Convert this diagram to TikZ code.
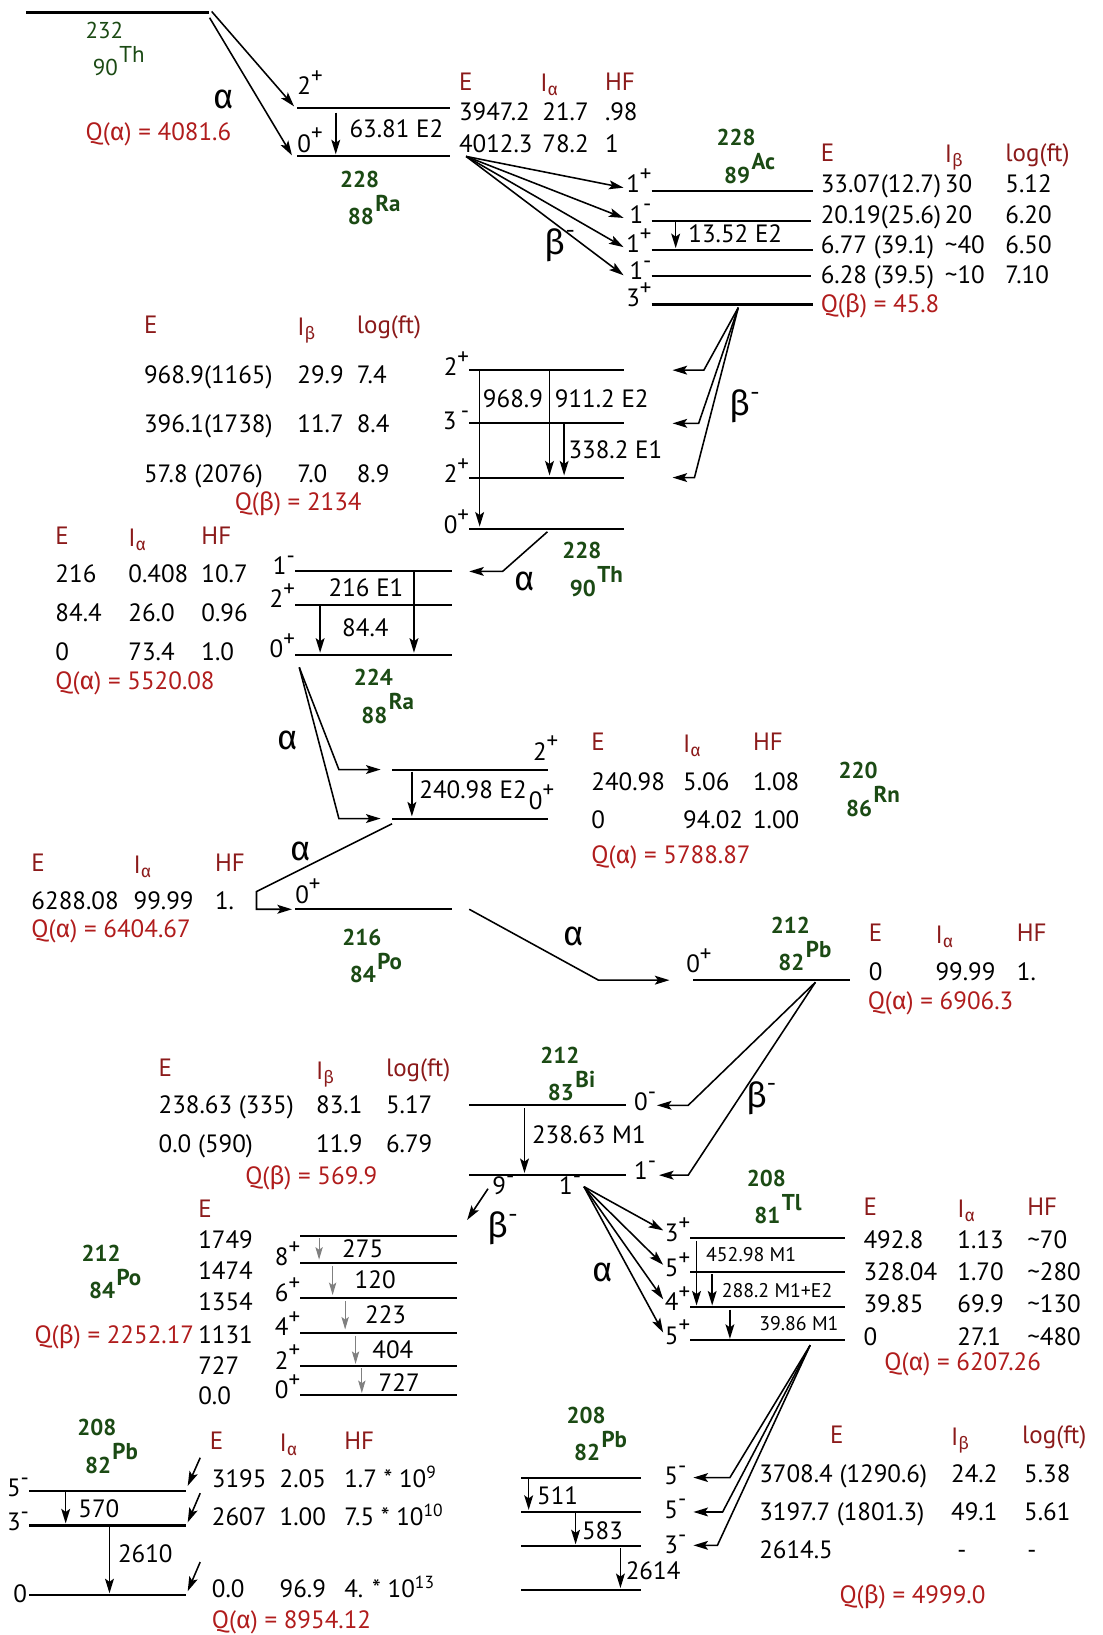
\documentclass[tikz,border=0pt]{standalone}
\usepackage{fontspec}
\setmainfont{PT Sans}
\newfontfamily\grk{Fira Sans}
\usetikzlibrary{arrows.meta, calc}

\definecolor{hdrRed}{HTML}{8B1A1A}
\definecolor{qRed}{HTML}{B01C1C}
\definecolor{isoGreen}{HTML}{1B4A14}

\newcommand{\alp}{{\grk α}}
\newcommand{\bet}{{\grk β}}
\newcommand{\up}[1]{\raisebox{0.45em}{\fontsize{22}{22}\selectfont #1}}

\tikzset{
    lvl/.style={line width=2pt},
    arr/.style={line width=1.5pt, -{Stealth[length=14pt,width=8.5pt,inset=3pt]}},
    garr/.style={line width=1.1pt, gray, -{Stealth[length=12pt,width=7pt,inset=2.5pt]}},
    tx/.style={inner sep=0pt, anchor=base west, font=\fontsize{24}{26}\selectfont},
    txr/.style={tx, anchor=base east},
    hdr/.style={tx, text=hdrRed},
    qval/.style={tx, text=qRed},
    small/.style={tx, font=\fontsize{19}{21}\selectfont},
    decay/.style={inner sep=0pt, font=\fontsize{33}{35}\grk},
    iso/.style={inner sep=0pt, text=isoGreen, font=\fontsize{22}{24}\selectfont\bfseries},
    isothin/.style={iso, font=\fontsize{22}{24}\selectfont},
}

% mass number, atomic number and symbol of a nuclide
\newcommand{\nuclide}[6][iso]{%
    \node[#1] (#2A) at (#3) {#4};
    \node[#1] (#2Z) at ($(#2A)+(1,36)$) {#5};
    \node[#1, anchor=base west] (#2S) at ($(#2Z.north east)+(1,3)$) {#6};
}

\begin{document}
\begin{tikzpicture}[x=1pt, y=-1pt]
    \useasboundingbox (0,0) rectangle (1057,1568);

    % Th-232 -> Ra-228 (alpha)
    \draw[lvl] (25,12) -- (200,12);
    \nuclide[isothin]{thA}{100,29}{232}{90}{Th}
    \draw[arr] (203,11) -- (282,102);
    \draw[arr] (201,17) -- (280,149);
    \node[decay] (aA) at (215,95) {\alp};
    \node[qval] (qA) at (82,135) {Q(\alp) = 4081.6};

    \draw[lvl] (285,104) -- (432,104);
    \draw[lvl] (285,150) -- (432,150);
    \node[tx] (sA1) at (285,91) {2\up{+}};
    \node[tx] (sA2) at (285,146) {0\up{+}};
    \draw[arr] (322,108) -- (322,148);
    \node[tx] (gA1) at (335,132) {63.81 E2};
    \nuclide{raA}{345,172}{228}{88}{Ra}
    \node[hdr] at (440,87) {E};
    \node[hdr] at (518,88) {I\textsubscript{\alp}};
    \node[hdr] at (580,87) {HF};
    \node[tx] at (440,116) {3947.2};
    \node[tx] at (520,116) {21.7};
    \node[tx] at (580,116) {.98};
    \node[tx] at (440,146) {4012.3};
    \node[tx] at (520,146) {78.2};
    \node[tx] at (580,146) {1};

    % Ra-228 -> Ac-228 (beta)
    \foreach \y in {180,209,237,264}
        \draw[arr] (447,150) -- (598,\y);
    \node[decay] (bB) at (537,235) {\bet\up{-}};
    \draw[lvl] (625,183) -- (780,183);
    \draw[lvl] (625,212) -- (778,212);
    \draw[lvl] (625,240) -- (780,240);
    \draw[lvl] (625,265) -- (778,265);
    \draw[lvl] (625,292) -- (780,292);
    \node[txr] at (625,185) {1\up{+}};
    \node[txr] at (625,214) {1\up{-}};
    \node[txr] at (625,242) {1\up{+}};
    \node[txr] at (625,268) {1\up{-}};
    \node[txr] at (625,294) {3\up{+}};
    \draw[arr] (648,213) -- (648,238);
    \node[tx] at (660,233) {13.52 E2};
    \nuclide{acB}{706,132}{228}{89}{Ac}
    \node[hdr] at (787,155) {E};
    \node[hdr] at (906,156) {I\textsubscript{\bet}};
    \node[hdr] at (964,155) {log(ft)};
    \node[tx] at (787,185) {33.07(12.7)};
    \node[tx] at (906,185) {30};
    \node[tx] at (964,185) {5.12};
    \node[tx] at (787,214) {20.19(25.6)};
    \node[tx] at (906,214) {20};
    \node[tx] at (964,214) {6.20};
    \node[tx] at (787,243) {6.77 (39.1)};
    \node[tx] at (906,243) {\char`\~40};
    \node[tx] at (964,243) {6.50};
    \node[tx] at (787,272) {6.28 (39.5)};
    \node[tx] at (906,272) {\char`\~10};
    \node[tx] at (964,272) {7.10};
    \node[qval] at (787,300) {Q(\bet) = 45.8};

    % Ac-228 -> Th-228 (beta)
    \draw[arr] (708,295) -- (675,355) -- (645,355);
    \draw[arr] (708,295) -- (670,406) -- (645,406);
    \draw[arr] (708,295) -- (666,458) -- (645,458);
    \node[decay] (bC) at (714,390) {\bet\up{-}};
    \draw[lvl] (450,355) -- (598,355);
    \draw[lvl] (450,406) -- (598,406);
    \draw[lvl] (450,458) -- (598,458);
    \draw[lvl] (450,507) -- (598,507);
    \node[txr] at (450,360) {2\up{+}};
    \node[txr] at (450,412) {3\,\up{-}};
    \node[txr] at (450,463) {2\up{+}};
    \node[txr] at (450,512) {0\up{+}};
    \draw[arr] (460,355) -- (460,505);
    \draw[arr] (527,355) -- (527,456);
    \draw[arr] (541,406) -- (541,456);
    \node[tx] at (463,391) {968.9};
    \node[tx] at (532,391) {911.2 E2};
    \node[tx] at (545,440) {338.2 E1};
    \nuclide{thC}{558,528}{228}{90}{Th}
    \node[hdr] at (138,320) {E};
    \node[hdr] at (285,322) {I\textsubscript{\bet}};
    \node[hdr] at (342,320) {log(ft)};
    \node[tx] at (138,368) {968.9(1165)};
    \node[tx] at (285,368) {29.9};
    \node[tx] at (342,368) {7.4};
    \node[tx] at (138,415) {396.1(1738)};
    \node[tx] at (285,415) {11.7};
    \node[tx] at (342,415) {8.4};
    \node[tx] at (138,463) {57.8 (2076)};
    \node[tx] at (285,463) {7.0};
    \node[tx] at (342,463) {8.9};
    \node[qval] at (225,490) {Q(\bet) = 2134};

    % Th-228 -> Ra-224 (alpha)
    \draw[arr] (525,510) -- (482,548) -- (450,548);
    \node[decay] (aD) at (503,558) {\alp};
    \draw[lvl] (283,548) -- (433,548);
    \draw[lvl] (283,580) -- (433,580);
    \draw[lvl] (283,628) -- (433,628);
    \node[txr] at (283,551) {1\up{-}};
    \node[txr] at (283,583) {2\up{+}};
    \node[txr] at (283,631) {0\up{+}};
    \draw[arr] (397,548) -- (397,626);
    \draw[arr] (307,580) -- (307,626);
    \node[tx] at (315,572) {216 E1};
    \node[tx] at (328,610) {84.4};
    \nuclide{raD}{358,650}{224}{88}{Ra}
    \node[hdr] at (53,522) {E};
    \node[hdr] at (123,524) {I\textsubscript{\alp}};
    \node[hdr] at (193,522) {HF};
    \node[tx] at (53,559) {216};
    \node[tx] at (123,559) {0.408};
    \node[tx] at (193,559) {10.7};
    \node[tx] at (53,596) {84.4};
    \node[tx] at (123,596) {26.0};
    \node[tx] at (193,596) {0.96};
    \node[tx] at (53,633) {0};
    \node[tx] at (123,633) {73.4};
    \node[tx] at (193,633) {1.0};
    \node[qval] at (53,661) {Q(\alp) = 5520.08};

    % Ra-224 -> Rn-220 (alpha)
    \draw[arr] (287,640) -- (325,738) -- (365,738);
    \draw[arr] (287,640) -- (325,785) -- (365,785);
    \node[decay] (aE) at (276,710) {\alp};
    \draw[lvl] (376,738) -- (526,738);
    \draw[lvl] (376,785) -- (526,785);
    \node[tx] at (511,729) {2\up{+}};
    \node[tx] at (507,776) {0\up{+}};
    \draw[arr] (395,740) -- (395,783);
    \node[tx] at (402,766) {240.98 E2};
    \nuclide{rnE}{823,739}{220}{86}{Rn}
    \node[hdr] at (567,720) {E};
    \node[hdr] at (655,722) {I\textsubscript{\alp}};
    \node[hdr] at (722,720) {HF};
    \node[tx] at (567,758) {240.98};
    \node[tx] at (655,758) {5.06};
    \node[tx] at (722,758) {1.08};
    \node[tx] at (567,795) {0};
    \node[tx] at (655,795) {94.02};
    \node[tx] at (722,795) {1.00};
    \node[qval] at (567,828) {Q(\alp) = 5788.87};

    % Rn-220 -> Po-216 (alpha)
    \draw[arr] (376,790) -- (246,855) -- (246,872) -- (280,872);
    \node[decay] (aF) at (288,817) {\alp};
    \draw[lvl] (283,872) -- (433,872);
    \node[tx] at (283,866) {0\up{+}};
    \nuclide{poF}{347,899}{216}{84}{Po}
    \node[hdr] at (30,836) {E};
    \node[hdr] at (128,838) {I\textsubscript{\alp}};
    \node[hdr] at (206,836) {HF};
    \node[tx] at (30,872) {6288.08};
    \node[tx] at (128,872) {99.99};
    \node[tx] at (206,872) {1.};
    \node[qval] at (30,899) {Q(\alp) = 6404.67};

    % Po-216 -> Pb-212 (alpha)
    \draw[arr] (450,872) -- (574,940) -- (642,940);
    \node[decay] (aG) at (550,898) {\alp};
    \draw[lvl] (665,940) -- (815,940);
    \node[tx] at (658,933) {0\up{+}};
    \nuclide{pbG}{758,887}{212}{82}{Pb}
    \node[hdr] at (833,903) {E};
    \node[hdr] at (897,905) {I\textsubscript{\alp}};
    \node[hdr] at (975,903) {HF};
    \node[tx] at (833,940) {0};
    \node[tx] at (897,940) {99.99};
    \node[tx] at (975,940) {1.};
    \node[qval] at (832,968) {Q(\alp) = 6906.3};

    % Pb-212 -> Bi-212 (beta)
    \draw[arr] (782,942) -- (660,1060) -- (630,1060);
    \draw[arr] (782,942) -- (660,1127) -- (632,1127);
    \node[decay] (bH) at (730,1053) {\bet\up{-}};
    \draw[lvl] (450,1060) -- (600,1060);
    \draw[lvl] (450,1127) -- (600,1127);
    \node[tx] at (608,1065) {0\up{-}};
    \node[tx] at (608,1131) {1\up{-}};
    \draw[arr] (503,1063) -- (503,1125);
    \node[tx] at (510,1097) {238.63 M1};
    \nuclide{biH}{537,1012}{212}{83}{Bi}
    \node[hdr] at (152,1032) {E};
    \node[hdr] at (303,1035) {I\textsubscript{\bet}};
    \node[hdr] at (370,1032) {log(ft)};
    \node[tx] at (152,1068) {238.63 (335)};
    \node[tx] at (303,1068) {83.1};
    \node[tx] at (370,1068) {5.17};
    \node[tx] at (152,1105) {0.0 (590)};
    \node[tx] at (303,1105) {11.9};
    \node[tx] at (370,1105) {6.79};
    \node[qval] at (235,1136) {Q(\bet) = 569.9};

    % Bi-212 -> Po-212 (beta)
    \node[tx] at (472,1146) {9\up{-}};
    \node[tx] at (536,1146) {1\up{-}};
    \draw[arr] (468,1140) -- (448,1170);
    \node[decay] (bJ) at (482,1178) {\bet\up{-}};
    \foreach \y in {1185,1211,1245,1278,1310,1338}
        \draw[lvl] (288,\y) -- (438,\y);
    \node[txr] at (288,1214) {8\up{+}};
    \node[txr] at (288,1248) {6\up{+}};
    \node[txr] at (288,1281) {4\up{+}};
    \node[txr] at (288,1313) {2\up{+}};
    \node[txr] at (288,1341) {0\up{+}};
    \node[hdr] at (190,1168) {E};
    \node[tx] at (190,1197) {1749};
    \node[tx] at (190,1227) {1474};
    \node[tx] at (190,1257) {1354};
    \node[tx] at (190,1288) {1131};
    \node[tx] at (190,1318) {727};
    \node[tx] at (190,1347) {0.0};
    \draw[garr] (306,1187) -- (306,1208);
    \draw[garr] (319,1214) -- (319,1242);
    \draw[garr] (331,1248) -- (331,1275);
    \draw[garr] (341,1281) -- (341,1308);
    \draw[garr] (347,1312) -- (347,1336);
    \node[tx] at (328,1206) {275};
    \node[tx] at (340,1236) {120};
    \node[tx] at (350,1269) {223};
    \node[tx] at (357,1303) {404};
    \node[tx] at (363,1334) {727};
    \nuclide{poJ}{97,1202}{212}{84}{Po}
    \node[qval] at (33,1288) {Q(\bet) = 2252.17};

    % Bi-212 -> Tl-208 (alpha)
    \foreach \y in {1180,1213,1246,1278}
        \draw[arr] (560,1138) -- (636,\y);
    \node[decay] (aK) at (578,1220) {\alp};
    \foreach \y in {1187,1220,1253,1285}
        \draw[lvl] (662,\y) -- (810,\y);
    \node[txr] at (662,1191) {3\up{+}};
    \node[txr] at (662,1224) {5\up{+}};
    \node[txr] at (662,1257) {4\up{+}};
    \node[txr] at (662,1289) {5\up{+}};
    \draw[arr] (668,1190) -- (668,1252);
    \draw[arr] (683,1222) -- (683,1252);
    \draw[arr] (700,1256) -- (700,1284);
    \node[small] at (677,1210) {452.98 M1};
    \node[small] at (692,1244) {288.2 M1+E2};
    \node[small] at (728,1276) {39.86 M1};
    \nuclide{tlK}{735,1130}{208}{81}{Tl}
    \node[hdr] at (828,1166) {E};
    \node[hdr] at (918,1168) {I\textsubscript{\alp}};
    \node[hdr] at (985,1166) {HF};
    \node[tx] at (828,1197) {492.8};
    \node[tx] at (918,1197) {1.13};
    \node[tx] at (985,1197) {\char`\~70};
    \node[tx] at (828,1228) {328.04};
    \node[tx] at (918,1228) {1.70};
    \node[tx] at (985,1228) {\char`\~280};
    \node[tx] at (828,1259) {39.85};
    \node[tx] at (918,1259) {69.9};
    \node[tx] at (985,1259) {\char`\~130};
    \node[tx] at (828,1290) {0};
    \node[tx] at (918,1290) {27.1};
    \node[tx] at (985,1290) {\char`\~480};
    \node[qval] at (848,1314) {Q(\alp) = 6207.26};

    % Tl-208 -> Pb-208 (beta)
    \draw[arr] (777,1290) -- (700,1417) -- (665,1417);
    \draw[arr] (777,1290) -- (693,1450) -- (665,1450);
    \draw[arr] (777,1290) -- (688,1482) -- (665,1482);
    \foreach \y in {1417,1450,1483,1525}
        \draw[lvl] (500,\y) -- (615,\y);
    \node[tx] at (637,1424) {5\up{-}};
    \node[tx] at (637,1456) {5\up{-}};
    \node[tx] at (637,1490) {3\up{-}};
    \draw[arr] (507,1417) -- (507,1448);
    \draw[arr] (552,1450) -- (552,1481);
    \draw[arr] (595,1485) -- (595,1523);
    \node[tx] at (515,1443) {511};
    \node[tx] at (558,1476) {583};
    \node[tx] at (600,1515) {2614};
    \nuclide{pbL}{562,1357}{208}{82}{Pb}
    \node[hdr] at (796,1384) {E};
    \node[hdr] at (912,1386) {I\textsubscript{\bet}};
    \node[hdr] at (980,1384) {log(ft)};
    \node[tx] at (728,1422) {3708.4 (1290.6)};
    \node[tx] at (912,1422) {24.2};
    \node[tx] at (982,1422) {5.38};
    \node[tx] at (728,1458) {3197.7 (1801.3)};
    \node[tx] at (912,1458) {49.1};
    \node[tx] at (982,1458) {5.61};
    \node[tx] at (728,1495) {2614.5};
    \node[tx] at (918,1495) {-};
    \node[tx] at (985,1495) {-};
    \node[qval] at (805,1538) {Q(\bet) = 4999.0};

    % Po-212 -> Pb-208 (alpha)
    \draw[lvl] (28,1430) -- (178,1430);
    \draw[lvl] (28,1463) -- (178,1463);
    \draw[lvl] (28,1530) -- (178,1530);
    \node[txr] at (28,1435) {5\up{-}};
    \node[txr] at (28,1468) {3\up{-}};
    \node[txr] at (26,1537) {0};
    \draw[arr] (63,1430) -- (63,1461);
    \draw[arr] (105,1463) -- (105,1528);
    \node[tx] at (75,1455) {570};
    \node[tx] at (113,1498) {2610};
    \draw[arr] (192,1398) -- (180,1425);
    \draw[arr] (192,1432) -- (180,1460);
    \draw[arr] (192,1498) -- (180,1526);
    \nuclide{pbM}{93,1369}{208}{82}{Pb}
    \node[hdr] at (201,1390) {E};
    \node[hdr] at (268,1392) {I\textsubscript{\alp}};
    \node[hdr] at (330,1390) {HF};
    \node[tx] at (203,1427) {3195};
    \node[tx] at (268,1427) {2.05};
    \node[tx] at (330,1427) {1.7 * 10\textsuperscript{9}};
    \node[tx] at (203,1463) {2607};
    \node[tx] at (268,1463) {1.00};
    \node[tx] at (330,1463) {7.5 * 10\textsuperscript{10}};
    \node[tx] at (203,1532) {0.0};
    \node[tx] at (268,1532) {96.9};
    \node[tx] at (330,1532) {4. * 10\textsuperscript{13}};
    \node[qval] at (203,1562) {Q(\alp) = 8954.12};
\end{tikzpicture}
\end{document}
